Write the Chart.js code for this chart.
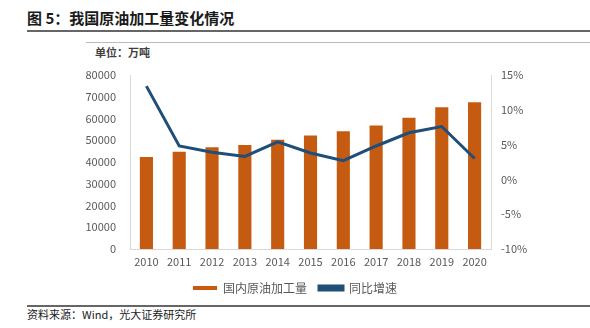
<!DOCTYPE html>
<html>
<head>
<meta charset="utf-8">
<script src="https://cdn.jsdelivr.net/npm/chart.js@4/dist/chart.umd.min.js"></script>
<style>
  body { margin: 0; width: 590px; height: 328px; background: #fff; position: relative; overflow: hidden;
         font-family: "Noto Sans CJK SC", sans-serif; }
  .title { position: absolute; left: 27px; top: 7px; font-size: 15px; font-weight: bold; color: #1a1a1a; }
  .rule1 { position: absolute; left: 27px; right: 0; top: 30px; height: 2px; background: #666; }
  .rule2 { position: absolute; left: 86px; right: 0; top: 42px; height: 1px; background: #bbb; }
  .unit { position: absolute; left: 95px; top: 44px; font-size: 11px; font-weight: bold; color: #404040; }
  .rule3 { position: absolute; left: 27px; right: 0; top: 305px; height: 2px; background: #666; }
  .source { position: absolute; left: 27px; top: 306px; font-size: 11px; color: #1a1a1a; }
  #wrap { position: absolute; left: 0; top: 0; width: 590px; height: 304px; }
</style>
</head>
<body>
<div class="title">图 5：我国原油加工量变化情况</div>
<div class="rule1"></div>
<div class="rule2"></div>
<div class="unit">单位：万吨</div>
<div id="wrap"><canvas id="chart"></canvas></div>
<div class="rule3"></div>
<div class="source">资料来源：Wind，光大证券研究所</div>
<script>
// 原油加工量（万吨）与同比增速（%）
const years = ["2010", "2011", "2012", "2013", "2014", "2015", "2016", "2017", "2018", "2019", "2020"];
const output = [42286, 44769, 46791, 47858, 50276, 52199, 54101, 56777, 60357, 65198, 67441];
const growth = [13.4, 4.8, 3.9, 3.3, 5.4, 3.8, 2.7, 4.8, 6.7, 7.6, 3.0];

const tickColor = "#595959";
const tickFont = { family: "'Noto Sans CJK SC', sans-serif", size: 11 };

new Chart(document.getElementById("chart"), {
    data: {
        labels: years,
        datasets: [
            {
                type: "bar",
                label: "国内原油加工量",
                data: output,
                backgroundColor: "#C55A11",
                borderWidth: 0,
                barPercentage: 0.4,
                categoryPercentage: 1,
                yAxisID: "y",
                order: 1,
            },
            {
                type: "line",
                label: "同比增速",
                data: growth,
                borderColor: "#1F4E79",
                backgroundColor: "#1F4E79",
                borderWidth: 3,
                pointRadius: 0,
                tension: 0,
                yAxisID: "y1",
                order: 0,
            },
        ],
    },
    options: {
        responsive: true,
        maintainAspectRatio: false,
        animation: false,
        layout: { padding: { top: 75, left: 0, right: 0, bottom: 0 } },
        plugins: {
            tooltip: { enabled: false },
            legend: {
                position: "bottom",
                labels: {
                    sort: (a, b) => a.datasetIndex - b.datasetIndex,
                    boxWidth: 24,
                    boxHeight: 4,
                    padding: 12,
                    color: tickColor,
                    font: { family: "'Noto Sans CJK SC', sans-serif", size: 12 },
                },
            },
        },
        scales: {
            x: {
                grid: { display: false, drawTicks: false },
                border: { color: "#d9d9d9" },
                ticks: { color: tickColor, font: tickFont, padding: 6, maxRotation: 0 },
                afterFit: (s) => { s.height = 21; },
            },
            y: {
                position: "left",
                min: 0,
                max: 80000,
                grid: { display: false, drawTicks: false },
                border: { color: "#d9d9d9" },
                ticks: { stepSize: 10000, color: tickColor, font: tickFont, padding: 14,
                         callback: (v) => String(v) },
                afterFit: (s) => { s.width = 130; },
            },
            y1: {
                position: "right",
                min: -10,
                max: 15,
                grid: { display: false, drawTicks: false },
                border: { color: "#d9d9d9" },
                ticks: { stepSize: 5, color: tickColor, font: tickFont, padding: 10,
                         callback: (v) => v + "%" },
                afterFit: (s) => { s.width = 99; },
            },
        },
    },
});
</script>
</body>
</html>
